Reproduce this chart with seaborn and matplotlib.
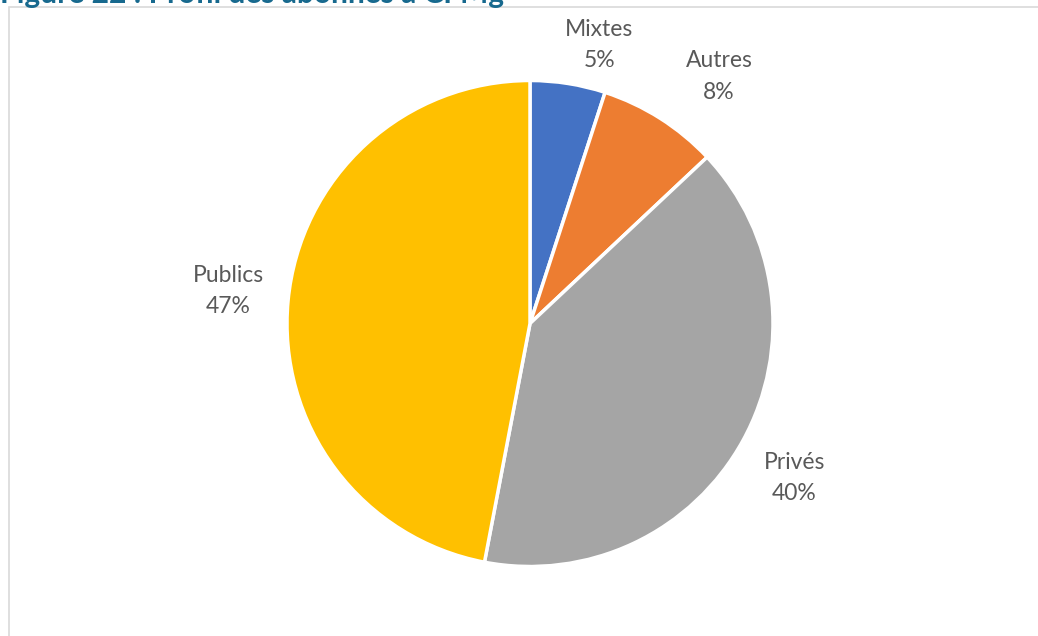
import matplotlib
matplotlib.use("Agg")
import matplotlib.pyplot as plt
from matplotlib.patches import Rectangle
import numpy as np
import seaborn as sns

# Subscriber profile shares
categories = ["Mixtes", "Autres", "Privés", "Publics"]
shares = [5, 8, 40, 47]
colors = ["#4472C4", "#ED7D31", "#A5A5A5", "#FFC000"]

sns.set_theme(style="white")
plt.rcParams["font.family"] = ["Lato", "DejaVu Sans"]

W, H = 1038, 636
fig = plt.figure(figsize=(W / 100, H / 100), dpi=100)
fig.patch.set_facecolor("white")

# Chart frame
fig.patches.append(Rectangle((9 / W, -0.05), 1.2, (H - 7) / H + 0.05,
                             transform=fig.transFigure, fill=False,
                             edgecolor="#D9D9D9", linewidth=1.2))

# Title (partly above the frame edge)
fig.text(0.0, 1 - 3 / H, "Figure 22 : Profil des abonnés à CFMg",
         ha="left", va="baseline", fontsize=21.5, fontweight="bold",
         color="#17698E")

R = 243.0
cx, cy = 530.0, 323.5
ax = fig.add_axes([0, 0, 1, 1])
ax.axis("off")

wedges, _ = ax.pie(shares, colors=colors, startangle=90, counterclock=False,
                   radius=1.0, wedgeprops=dict(edgecolor="white", linewidth=2.5))

# Fix the data window so that one unit equals the pie radius in pixels
ax.set_xlim(-cx / R, (W - cx) / R)
ax.set_ylim(-(H - cy) / R, cy / R)
ax.set_aspect("auto")

# Label placement: radial distance and angular shift per wedge
label_dist = [1.18, 1.28, 1.26, 1.25]
angle_shift = [-5, -5, -1.5, -0.8]
for w, name, val, d, da in zip(wedges, categories, shares, label_dist, angle_shift):
    mid = np.deg2rad((w.theta1 + w.theta2) / 2 + da)
    ax.text(d * np.cos(mid), d * np.sin(mid), f"{name}\n{val}%",
            ha="center", va="center", fontsize=16.5, color="#595959",
            linespacing=1.6)

fig.savefig("out.png", dpi=100, facecolor="white")
